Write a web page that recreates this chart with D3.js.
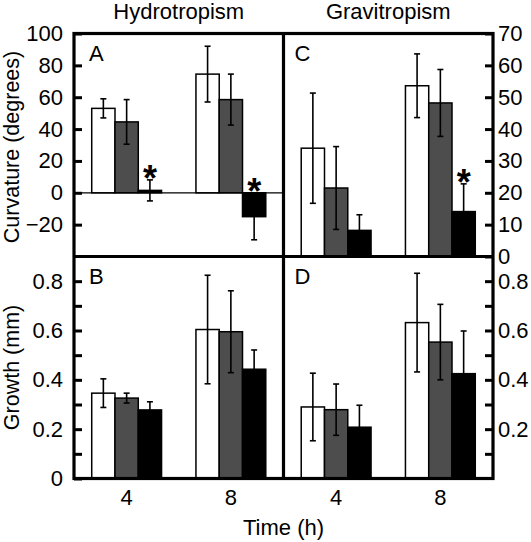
<!DOCTYPE html>
<html>
<head>
<meta charset="utf-8">
<script src="https://cdn.jsdelivr.net/npm/d3@7"></script>
<style>
  html, body { margin: 0; padding: 0; background: #fff; }
  svg { display: block; }
  text { font-family: "Liberation Sans", Arial, Helvetica, sans-serif; fill: #000; }
</style>
</head>
<body>
<svg id="chart" width="531" height="542"></svg>
<script>
// ---------- data ----------
const categories = ["4", "8"];               // time (h)
const treatments = ["t1", "t2", "t3"];       // white, grey, black bars
const treatmentColors = ["#ffffff", "#4d4d4d", "#000000"];

// Curvature (degrees) - hydrotropism (panel A)
const curvHydroMean = [[53, 74.5], [44.5, 58.5], [1.5, -15]];
const curvHydroErr  = [[6, 17.5], [14, 16], [6.6, 14.5]];
const curvHydroStar = [[false, false], [false, false], [true, true]];

// Curvature (degrees) - gravitropism (panel C)
const curvGravMean = [[34, 53.6], [21.5, 48.2], [8.2, 14.1]];
const curvGravErr  = [[17.3, 10], [13, 10.5], [4.9, 8.7]];
const curvGravStar = [[false, false], [false, false], [false, true]];

// Growth (mm) - hydrotropism (panel B)
const growthHydroMean = [[0.346, 0.604], [0.326, 0.595], [0.278, 0.443]];
const growthHydroErr  = [[0.058, 0.22], [0.02, 0.166], [0.033, 0.078]];

// Growth (mm) - gravitropism (panel D)
const growthGravMean = [[0.29, 0.632], [0.279, 0.553], [0.208, 0.425]];
const growthGravErr  = [[0.137, 0.2], [0.104, 0.153], [0.089, 0.173]];

const curvHydroTicks = [-40, -20, 0, 20, 40, 60, 80, 100];
const curvGravTicks = [0, 10, 20, 30, 40, 50, 60, 70];
const growthTicks = [0, 0.1, 0.2, 0.3, 0.4, 0.5, 0.6, 0.7, 0.8];
const growthLabels = ["0", "", "0.2", "", "0.4", "", "0.6", "", "0.8"];

// ---------- layout ----------
const svg = d3.select("#chart");
const X0 = 74, XM = 283.5, X1 = 493;
const Y0 = 33.5, YM = 256.5, Y1 = 478.5;
const FS = 22;

const yCurvA = d3.scaleLinear().domain([-40, 100]).range([YM, Y0]);
const yCurvC = d3.scaleLinear().domain([0, 70]).range([YM, Y0]);
const yGrowB = d3.scaleLinear().domain([0, 0.9]).range([Y1, YM]);
const yGrowD = d3.scaleLinear().domain([0, 0.9]).range([Y1, YM]);

function bandFor(x0, x1) {
  return d3.scaleBand().domain(categories).range([x0, x1]).paddingInner(0.33).paddingOuter(0.17);
}
const xLeft = bandFor(X0, XM);
const xRight = bandFor(XM, X1);

function drawBars(g, x, y, means, errs, stars, zeroVal) {
  const inner = d3.scaleBand().domain(treatments).range([0, x.bandwidth()]).padding(0);
  const rows = [];
  treatments.forEach((t, ti) => {
    categories.forEach((c, ci) => {
      rows.push({t, ti, c, v: means[ti][ci], e: errs[ti][ci], star: stars ? stars[ti][ci] : false});
    });
  });
  const bx = d => x(d.c) + inner(d.t);
  const bw = inner.bandwidth();
  g.selectAll("rect.bar").data(rows).join("rect")
    .attr("class", "bar")
    .attr("x", d => bx(d))
    .attr("width", bw)
    .attr("y", d => Math.min(y(d.v), y(zeroVal)))
    .attr("height", d => Math.abs(y(d.v) - y(zeroVal)))
    .attr("fill", d => treatmentColors[d.ti])
    .attr("stroke", "#000")
    .attr("stroke-width", 1.5);
  const cap = 3;
  const eg = g.selectAll("g.err").data(rows).join("g").attr("class", "err")
    .attr("stroke", "#000").attr("stroke-width", 1.6);
  eg.append("line")
    .attr("x1", d => bx(d) + bw / 2).attr("x2", d => bx(d) + bw / 2)
    .attr("y1", d => y(d.v + d.e)).attr("y2", d => y(d.v - d.e));
  eg.append("line")
    .attr("x1", d => bx(d) + bw / 2 - cap).attr("x2", d => bx(d) + bw / 2 + cap)
    .attr("y1", d => y(d.v + d.e)).attr("y2", d => y(d.v + d.e));
  eg.append("line")
    .attr("x1", d => bx(d) + bw / 2 - cap).attr("x2", d => bx(d) + bw / 2 + cap)
    .attr("y1", d => y(d.v - d.e)).attr("y2", d => y(d.v - d.e));
  const sfs = 36;
  g.selectAll("text.star").data(rows.filter(d => d.star)).join("text")
    .attr("class", "star")
    .attr("x", d => bx(d) + bw / 2)
    .attr("y", d => Math.min(y(d.v + d.e), y(zeroVal)) - 10 + 0.58 * sfs)
    .attr("text-anchor", "middle")
    .style("font-size", sfs + "px")
    .style("font-weight", "bold")
    .text("*");
}

// zero line in panel A
svg.append("line")
  .attr("x1", X0).attr("x2", XM)
  .attr("y1", yCurvA(0)).attr("y2", yCurvA(0))
  .attr("stroke", "#000").attr("stroke-width", 1.2);

drawBars(svg.append("g"), xLeft, yCurvA, curvHydroMean, curvHydroErr, curvHydroStar, 0);
drawBars(svg.append("g"), xRight, yCurvC, curvGravMean, curvGravErr, curvGravStar, 0);
drawBars(svg.append("g"), xLeft, yGrowB, growthHydroMean, growthHydroErr, null, 0);
drawBars(svg.append("g"), xRight, yGrowD, growthGravMean, growthGravErr, null, 0);

// ---------- axes ----------
function styleAxis(g) {
  g.select(".domain").remove();
  g.selectAll(".tick line").attr("stroke", "#000").attr("stroke-width", 3);
  g.selectAll(".tick text").style("font-size", FS + "px").style("font-family", '"Liberation Sans", Arial, sans-serif').attr("fill", "#000");
}
const fmtCurv = d => d < 0 ? "\u2212" + Math.abs(d) : String(d);

svg.append("g").attr("transform", `translate(${X0},0)`)
  .call(d3.axisLeft(yCurvA).tickValues(curvHydroTicks.filter(v => v > -40)).tickSize(-8).tickPadding(11).tickFormat(fmtCurv))
  .call(styleAxis);
svg.append("g").attr("transform", `translate(${X1},0)`)
  .call(d3.axisRight(yCurvC).tickValues(curvGravTicks).tickSize(-8).tickPadding(5).tickFormat(fmtCurv))
  .call(styleAxis);
svg.append("g").attr("transform", `translate(${X0},0)`)
  .call(d3.axisLeft(yGrowB).tickValues(growthTicks).tickSize(-8).tickPadding(11).tickFormat((d, i) => growthLabels[i]))
  .call(styleAxis);
svg.append("g").attr("transform", `translate(${X1},0)`)
  .call(d3.axisRight(yGrowD).tickValues(growthTicks.filter(v => v > 0)).tickSize(-8).tickPadding(5).tickFormat((d, i) => growthLabels[i + 1]))
  .call(styleAxis);

// bottom category labels
svg.append("g").attr("transform", `translate(0,${Y1})`)
  .call(d3.axisBottom(xLeft).tickSize(0).tickPadding(11))
  .call(styleAxis);
svg.append("g").attr("transform", `translate(0,${Y1})`)
  .call(d3.axisBottom(xRight).tickSize(0).tickPadding(11))
  .call(styleAxis);

// ---------- frames ----------
const frame = svg.append("g").attr("fill", "none").attr("stroke", "#000").attr("stroke-width", 3.2);
frame.append("rect").attr("x", X0).attr("y", Y0).attr("width", X1 - X0).attr("height", Y1 - Y0);
frame.append("line").attr("x1", XM).attr("x2", XM).attr("y1", Y0).attr("y2", Y1);
frame.append("line").attr("x1", X0).attr("x2", X1).attr("y1", YM).attr("y2", YM);

// ---------- panel letters ----------
const letters = [["A", X0 + 15, Y0 + 27], ["B", X0 + 15, YM + 27], ["C", XM + 11, Y0 + 27], ["D", XM + 11, YM + 27]];
svg.selectAll("text.letter").data(letters).join("text")
  .attr("class", "letter").attr("x", d => d[1]).attr("y", d => d[2])
  .style("font-size", FS + "px").text(d => d[0]);

// ---------- titles ----------
svg.append("text").attr("x", (X0 + XM) / 2).attr("y", 19).attr("text-anchor", "middle")
  .style("font-size", FS + "px").text("Hydrotropism");
svg.append("text").attr("x", (XM + X1) / 2).attr("y", 19).attr("text-anchor", "middle")
  .style("font-size", FS + "px").text("Gravitropism");
svg.append("text").attr("transform", `translate(18.5,${(Y0 + YM) / 2 + 2}) rotate(-90)`).attr("text-anchor", "middle")
  .style("font-size", "21.5px").text("Curvature (degrees)");
svg.append("text").attr("transform", `translate(18.5,${(YM + Y1) / 2}) rotate(-90)`).attr("text-anchor", "middle")
  .style("font-size", "21.5px").text("Growth (mm)");
svg.append("text").attr("x", XM).attr("y", 535).attr("text-anchor", "middle")
  .style("font-size", FS + "px").text("Time (h)");
</script>
</body>
</html>
